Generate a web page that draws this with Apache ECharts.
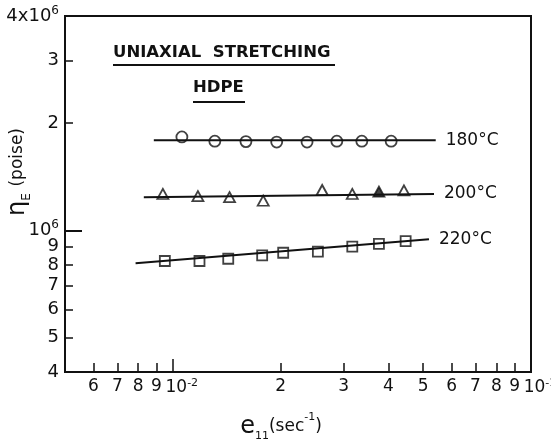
<!DOCTYPE html>
<html><head><meta charset="utf-8">
<script src="https://cdn.jsdelivr.net/npm/echarts@6/dist/echarts.min.js"></script>
<style>html,body{margin:0;padding:0;background:#fff}#c{width:551px;height:440px}</style>
</head><body><div id="c"></div>
<script>
// ---- data (strain rate in 1/s, elongational viscosity in poise) ----
const rate180 = [0.0106, 0.0131, 0.0160, 0.0195, 0.0237, 0.0287, 0.0337, 0.0407];
const eta180  = [1.83e6, 1.78e6, 1.775e6, 1.77e6, 1.77e6, 1.78e6, 1.78e6, 1.78e6];
const fit180X = [0.00885, 0.0542];
const fit180Y = [1.79e6, 1.79e6];

const rate200 = [0.00938, 0.01175, 0.0144, 0.01788, 0.02612, 0.0317, 0.03762, 0.04418];
const eta200  = [1.265e6, 1.247e6, 1.24e6, 1.211e6, 1.298e6, 1.265e6, 1.284e6, 1.295e6];
const fit200X = [0.0083, 0.0536];
const fit200Y = [1.238e6, 1.265e6];

const rate220 = [0.0095, 0.01187, 0.01428, 0.01776, 0.02033, 0.02541, 0.0317, 0.03762, 0.04467];
const eta220  = [8.2e5, 8.2e5, 8.32e5, 8.51e5, 8.65e5, 8.71e5, 9.0e5, 9.16e5, 9.33e5];
const fit220X = [0.00787, 0.0519];
const fit220Y = [8.08e5, 9.44e5];

const seriesNames = ['180°C', '200°C', '220°C'];

const xTickVals   = [0.006, 0.007, 0.008, 0.009, 0.01, 0.02, 0.03, 0.04, 0.05, 0.06, 0.07, 0.08, 0.09, 0.1];
const xTickLabels = ['6', '7', '8', '9', '10^-2', '2', '3', '4', '5', '6', '7', '8', '9', '10^-1'];
const yTickVals   = [4e5, 5e5, 6e5, 7e5, 8e5, 9e5, 1e6, 2e6, 3e6, 4e6];
const yTickLabels = ['4', '5', '6', '7', '8', '9', '10^6', '2', '3', '4x10^6'];

const xMin = 0.005, xMax = 0.1, yMin = 4e5, yMax = 4e6;

// ---- helpers ----
function pick(vals, labels, v) {
  for (let i = 0; i < vals.length; i++) {
    if (Math.abs(Math.log10(v) - Math.log10(vals[i])) < 1e-4) return labels[i];
  }
  return '';
}
function richLabel(s, isX) {
  const k = s.indexOf('^');
  if (k < 0) return '{n|' + s + '}';
  return (isX ? '{sp|}' : '') + '{n|' + s.slice(0, k) + '}{s|' + s.slice(k + 1) + '}';
}
const pairs = (xs, ys) => xs.map((x, i) => [x, ys[i]]);
// keep edge labels just inside the axis extent so they are not dropped by rounding
const inside = (v, lo, hi) => Math.min(Math.max(v, lo * 1.00001), hi * 0.99999);
const FONT = 'DejaVu Sans';
const ink = '#111';

const chart = echarts.init(document.getElementById('c'), null, {renderer: 'canvas'});

const scatterStyle = {color: 'rgba(0,0,0,0)', borderColor: ink, borderWidth: 1.8};
const fitLine = (name, xs, ys) => ({
  name: name, type: 'line', data: pairs(xs, ys), showSymbol: false, symbol: 'none',
  lineStyle: {color: ink, width: 2}, z: 2, animation: false,
  endLabel: {show: true, formatter: name, distance: 10, color: ink, fontFamily: FONT, fontSize: 17}
});

const data200 = pairs(rate200, eta200).map((p, i) => i === 6 ? {value: p, itemStyle: {color: ink}} : p);

const xLabelRich = {n: {fontSize: 17, fontFamily: FONT, color: ink},
                    s: {fontSize: 11, fontFamily: FONT, color: ink, verticalAlign: 'top', lineHeight: 20},
                    sp: {width: 18}};
const xMain = xTickVals.filter(v => v !== xMax);
const xEdge = xTickVals.filter(v => v === xMax);

const option = {
  animation: false,
  backgroundColor: '#fff',
  textStyle: {fontFamily: FONT},
  grid: {left: 65, right: 20, top: 16, bottom: 68, show: true, borderColor: ink, borderWidth: 2,
         containLabel: false, outerBoundsMode: 'none'},
  xAxis: [{
    type: 'log', logBase: 10, min: xMin, max: xMax, position: 'bottom',
    axisLine: {show: true, lineStyle: {color: ink, width: 2}},
    axisTick: {show: true, inside: true, length: 9, customValues: xTickVals.filter(v => v !== 0.01 && v !== xMax),
               lineStyle: {color: ink, width: 1.5}},
    axisLabel: {show: true, customValues: xMain, margin: 6, color: ink,
                fontFamily: FONT, fontSize: 17, hideOverlap: false,
                formatter: v => richLabel(pick(xTickVals, xTickLabels, v), true), rich: xLabelRich},
    splitLine: {show: false}
  }, {
    type: 'log', logBase: 10, min: xMin, max: xMax, position: 'bottom',
    axisLine: {show: false},
    axisTick: {show: true, inside: true, length: 13, customValues: [0.01], lineStyle: {color: ink, width: 1.5}},
    axisLabel: {show: true, customValues: xEdge.map(v => inside(v, xMin, xMax)), margin: 6, color: ink,
                fontFamily: FONT, fontSize: 17, hideOverlap: false, showMaxLabel: true,
                formatter: v => richLabel(pick(xTickVals, xTickLabels, v), true), rich: xLabelRich},
    splitLine: {show: false}
  }],
  yAxis: [{
    type: 'log', logBase: 10, min: yMin, max: yMax, position: 'left',
    axisLine: {show: true, lineStyle: {color: ink, width: 2}},
    axisTick: {show: true, inside: true, length: 8, customValues: yTickVals.filter(v => v !== 4e5 && v !== 4e6 && v !== 1e6),
               lineStyle: {color: ink, width: 1.5}},
    axisLabel: {show: true, customValues: yTickVals.map(v => inside(v, yMin, yMax)), margin: 6, color: ink,
                fontFamily: FONT, fontSize: 18, hideOverlap: false,
                formatter: v => richLabel(pick(yTickVals, yTickLabels, v), false),
                rich: {n: {fontSize: 18, fontFamily: FONT, color: ink},
                       s: {fontSize: 12, fontFamily: FONT, color: ink, verticalAlign: 'top', lineHeight: 22}}},
    splitLine: {show: false}
  }, {
    type: 'log', logBase: 10, min: yMin, max: yMax, position: 'left', offset: 0,
    axisLine: {show: false},
    axisTick: {show: true, inside: true, length: 17, customValues: [1e6], lineStyle: {color: ink, width: 2}},
    axisLabel: {show: false}, splitLine: {show: false}
  }],
  series: [
    fitLine(seriesNames[0], fit180X, fit180Y),
    fitLine(seriesNames[1], fit200X, fit200Y),
    fitLine(seriesNames[2], fit220X, fit220Y),
    {type: 'scatter', data: pairs(rate180, eta180), symbol: 'circle', symbolSize: 11, itemStyle: scatterStyle, z: 3},
    {type: 'scatter', data: data200, symbol: 'triangle', symbolSize: [11, 10], itemStyle: scatterStyle, z: 3},
    {type: 'scatter', data: pairs(rate220, eta220), symbol: 'rect', symbolSize: 10, itemStyle: scatterStyle, z: 3}
  ],
  graphic: [
    {type: 'text', left: 113, top: 44, style: {text: 'UNIAXIAL  STRETCHING', font: 'bold 16.5px "DejaVu Sans"', fill: ink}},
    {type: 'line', shape: {x1: 113, y1: 65, x2: 335, y2: 65}, style: {stroke: ink, lineWidth: 1.8}},
    {type: 'text', left: 193, top: 79, style: {text: 'HDPE', font: 'bold 16.5px "DejaVu Sans"', fill: ink}},
    {type: 'line', shape: {x1: 193, y1: 102, x2: 245, y2: 102}, style: {stroke: ink, lineWidth: 1.8}},
    {type: 'text', x: 18, y: 172, rotation: Math.PI / 2,
     style: {text: '{g|η}{sub|E}  {p|(poise)}', align: 'center', verticalAlign: 'middle',
             rich: {g: {fontSize: 24, fontFamily: FONT, fill: ink},
                    sub: {fontSize: 12, fontFamily: FONT, fill: ink, verticalAlign: 'bottom', lineHeight: 30},
                    p: {fontSize: 17, fontFamily: FONT, fill: ink}}}},
    {type: 'text', x: 281, y: 427,
     style: {text: '{e|e}{sub|11}{p|(sec}{sup|-1}{p|)}', align: 'center', verticalAlign: 'middle',
             rich: {e: {fontSize: 24, fontFamily: FONT, fill: ink},
                    sub: {fontSize: 11, fontFamily: FONT, fill: ink, verticalAlign: 'bottom', lineHeight: 30},
                    sup: {fontSize: 11, fontFamily: FONT, fill: ink, verticalAlign: 'top', lineHeight: 22},
                    p: {fontSize: 17, fontFamily: FONT, fill: ink}}}}
  ]
};
chart.setOption(option);
</script>
</body></html>
